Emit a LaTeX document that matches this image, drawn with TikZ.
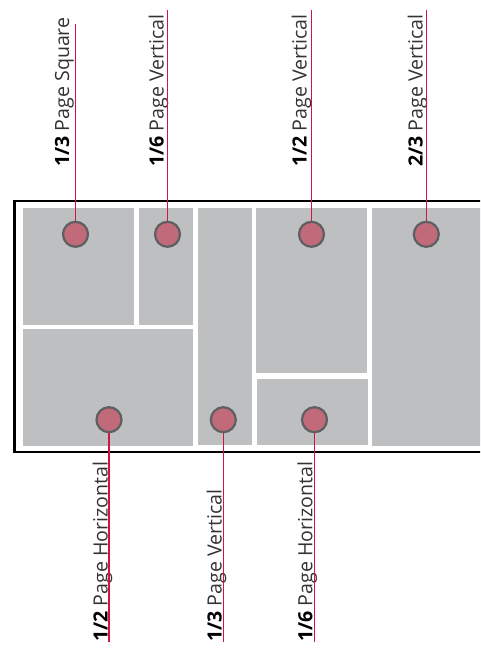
\documentclass[tikz,border=0pt]{standalone}
\usepackage{fontspec}
\setmainfont{Open Sans}
\usetikzlibrary{positioning}
\definecolor{adgray}{HTML}{BEBFC1}
\definecolor{dotfill}{HTML}{C06A7A}
\definecolor{dotrim}{HTML}{5E5F61}
\definecolor{leadred}{HTML}{D0163F}

\begin{document}
\begin{tikzpicture}[x=1pt, y=-1pt,
  panel/.style={fill=adgray},
  frame/.style={draw=black, line width=2.5pt},
  dot/.style={circle, draw=dotrim, line width=2.2pt, fill=dotfill,
              minimum size=25pt, inner sep=0pt},
  lead/.style={draw=leadred, line width=1.1pt},
  lbl/.style={rotate=90, anchor=base west, inner sep=0pt,
              font=\fontsize{19.6}{23}\selectfont, text=black!80}
]
\clip (0,0) rectangle (480,648);
% ----- page frame -----
\draw[frame] (14.7,201.2) rectangle (495,452);
% ----- ad panels -----
\fill[panel] (22.7,207.7) rectangle (134,325);   % 1/3 square
\fill[panel] (139,207.7) rectangle (193,325);    % 1/6 vertical
\fill[panel] (22.7,329) rectangle (193,446);     % 1/2 horizontal
\fill[panel] (198,207.7) rectangle (251.7,445);  % 1/3 vertical
\fill[panel] (256,207.7) rectangle (367,373);    % 1/2 vertical
\fill[panel] (257,379) rectangle (368,445);      % 1/6 horizontal
\fill[panel] (372,207.7) rectangle (495,446);    % 2/3 vertical
% ----- markers -----
\node[dot] (sqdot)  at (75.5,234.3)  {};
\node[dot] (sixv)   at (167.5,234.3) {};
\node[dot] (halfv)  at (311.5,234.3) {};
\node[dot] (twov)   at (426.3,234.3) {};
\node[dot] (halfh)  at (109,419.7)   {};
\node[dot] (thirdv) at (223.3,419.7) {};
\node[dot] (sixh)   at (314.5,419.7) {};
% ----- labels -----
\node[lbl] (sqlbl)    at (69,167)    {\textcolor{black}{\textbf{1/3}} Page Square};
\node[lbl] (sixvlbl)  at (163.5,167) {\textcolor{black}{\textbf{1/6}} Page Vertical};
\node[lbl] (halfvlbl) at (306.5,167) {\textcolor{black}{\textbf{1/2}} Page Vertical};
\node[lbl] (twovlbl)  at (422.5,167) {\textcolor{black}{\textbf{2/3}} Page Vertical};
\node[lbl] (halfhlbl) at (107.5,642) {\textcolor{black}{\textbf{1/2}} Page Horizontal};
\node[lbl] (thirdvlbl) at (221.5,642) {\textcolor{black}{\textbf{1/3}} Page Vertical};
\node[lbl] (sixhlbl)  at (312.3,642) {\textcolor{black}{\textbf{1/6}} Page Horizontal};
% ----- leader lines -----
\coordinate (sqtop)    at (75.5,23.7);
\coordinate (sixvtop)  at (167.5,10);
\coordinate (halfvtop) at (311.5,10);
\coordinate (twovtop)  at (426.3,10);
\coordinate (halfhend) at (109,641.7);
\coordinate (thirdvend) at (223.3,641.7);
\coordinate (sixhend)  at (314.5,641.7);
\draw[lead] (sqdot) -- (sqtop);
\draw[lead] (sixv) -- (sixvtop);
\draw[lead] (halfv) -- (halfvtop);
\draw[lead] (twov) -- (twovtop);
\draw[lead] (halfh) -- (halfhend);
\draw[lead] (thirdv) -- (thirdvend);
\draw[lead] (sixh) -- (sixhend);
\end{tikzpicture}
\end{document}
